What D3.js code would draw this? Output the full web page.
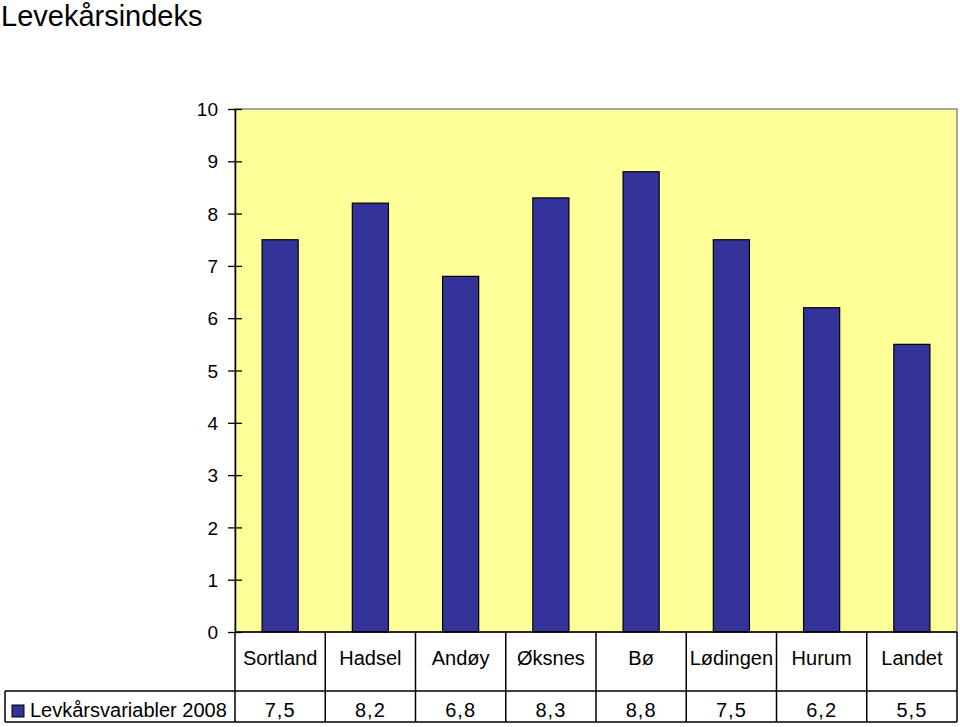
<!DOCTYPE html>
<html><head><meta charset="utf-8">
<script src="https://cdn.jsdelivr.net/npm/d3@7"></script>
<style>body{margin:0;background:#fff}svg{display:block}text{font-family:"Liberation Sans",Arial,sans-serif;fill:#000}</style>
</head><body>
<script>
const title = "Levekårsindeks";
const categories = ["Sortland","Hadsel","Andøy","Øksnes","Bø","Lødingen","Hurum","Landet"];
const seriesName = "Levkårsvariabler 2008";
const values = [7.5, 8.2, 6.8, 8.3, 8.8, 7.5, 6.2, 5.5];
const valueLabels = ["7,5","8,2","6,8","8,3","8,8","7,5","6,2","5,5"];
const yTicks = [0,1,2,3,4,5,6,7,8,9,10];

const W = 960, H = 727;
const L = 235, R = 957, T = 109, B = 632;
const row1 = 691, row2 = 722, legendLeft = 5;

const svg = d3.select("body").append("svg").attr("width", W).attr("height", H);

svg.append("text").attr("x", 1).attr("y", 26).style("font-size", "29px").text(title);

const x = d3.scaleBand().domain(categories).range([L, R]).paddingInner(0).paddingOuter(0);
const y = d3.scaleLinear().domain([0, 10]).range([B, T]);

// plot area
svg.append("rect").attr("x", L).attr("y", T).attr("width", R - L).attr("height", B - T)
  .attr("fill", "#FFFF99").attr("stroke", "#8c8c8c").attr("stroke-width", 1.5);

// bars
const bw = x.bandwidth() * 0.4;
svg.selectAll("rect.bar").data(values).enter().append("rect").attr("class", "bar")
  .attr("x", (d, i) => x(categories[i]) + (x.bandwidth() - bw) / 2)
  .attr("y", d => y(d)).attr("width", bw).attr("height", d => y(0) - y(d))
  .attr("fill", "#333399").attr("stroke", "#000").attr("stroke-width", 1.2);

// y axis
const yAxis = d3.axisLeft(y).tickValues(yTicks).tickSize(0).tickPadding(17).tickFormat(d3.format("d"));
const ga = svg.append("g").attr("transform", `translate(${L},0)`).call(yAxis);
ga.select(".domain").attr("stroke", "#000").attr("stroke-width", 1.5);
ga.selectAll(".tick text").style("font-size", "19px").attr("fill", "#000").attr("dy", "0.35em");
ga.selectAll(".tick").append("line").attr("x1", -7).attr("x2", 7).attr("stroke", "#000").attr("stroke-width", 1.3);

// table
const tbl = svg.append("g").attr("stroke", "#000").attr("stroke-width", 1.5);
tbl.append("line").attr("x1", legendLeft).attr("x2", R).attr("y1", row1).attr("y2", row1);
tbl.append("line").attr("x1", legendLeft).attr("x2", R).attr("y1", row2).attr("y2", row2);
tbl.append("line").attr("x1", L).attr("x2", R).attr("y1", B).attr("y2", B);
tbl.append("line").attr("x1", legendLeft).attr("x2", legendLeft).attr("y1", row1).attr("y2", row2);
const edges = categories.map(c => x(c)).concat([R]);
tbl.selectAll("line.v").data(edges).enter().append("line").attr("class", "v")
  .attr("x1", d => d).attr("x2", d => d).attr("y1", B).attr("y2", row2);

svg.selectAll("text.cat").data(categories).enter().append("text").attr("class", "cat")
  .attr("x", d => x(d) + x.bandwidth() / 2).attr("y", 665).attr("text-anchor", "middle")
  .style("font-size", "20px").text(d => d);
svg.selectAll("text.val").data(valueLabels).enter().append("text").attr("class", "val")
  .attr("x", (d, i) => x(categories[i]) + x.bandwidth() / 2).attr("y", 717).attr("text-anchor", "middle")
  .style("font-size", "20px").style("letter-spacing", "1px").text(d => d);

// legend
svg.append("rect").attr("x", 12).attr("y", 705).attr("width", 12).attr("height", 12)
  .attr("fill", "#333399").attr("stroke", "#000").attr("stroke-width", 1);
svg.append("text").attr("x", 30).attr("y", 717).style("font-size", "20px").text(seriesName);
</script>
</body></html>
